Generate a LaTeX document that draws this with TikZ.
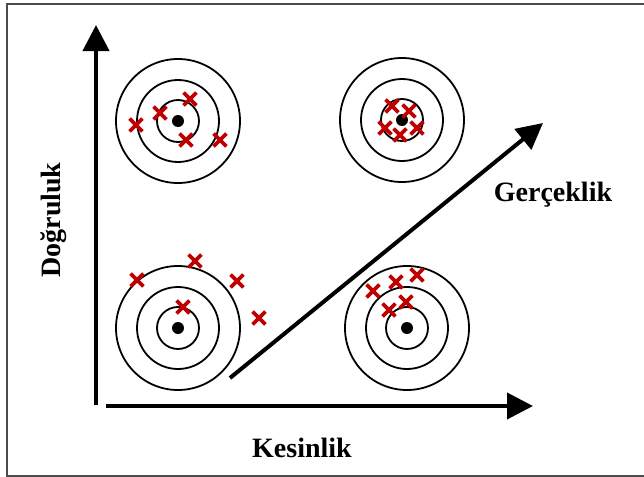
\documentclass[tikz,border=0pt]{standalone}
\usepackage{fontspec}
\setmainfont{Liberation Serif}
\usetikzlibrary{arrows.meta, shapes.misc}

\begin{document}
\begin{tikzpicture}[x=0.5pt, y=-0.5pt,
    ring/.style={draw=black, line width=0.9pt},
    bull/.style={circle, fill=black, inner sep=0pt, minimum size=6pt},
    hit/.style={cross out, draw=red!75!black, line width=1.9pt, inner sep=0pt, minimum size=4.5pt},
    axis/.style={-{Triangle[length=13pt, width=13pt]}, line width=2pt},
    lbl/.style={font=\fontsize{14}{16}\selectfont\bfseries}
]
\useasboundingbox (0,0) rectangle (644,477);
\draw[gray!60!black, line width=1pt] (644,4) -- (7,4) -- (7,476) -- (644,476);

% targets
\node[bull] (tl) at (178,121) {};
\node[bull] (tr) at (402,120) {};
\node[bull] (bl) at (178,328) {};
\node[bull] (br) at (407,328) {};
\foreach \c in {tl,tr,bl,br}
  \foreach \r in {10.5pt,20.5pt,31pt}
    \draw[ring] (\c) circle[radius=\r];

% hits
\foreach \x/\y [count=\i] in {190/99, 160/113, 136/125, 186/140, 220/140,
    392/106, 409/111, 385/128, 400/135, 417/128,
    195/261, 137/280, 237/281, 183/307, 259/318,
    417/275, 396/282, 373/291, 406/302, 389/310}
  \node[hit] (h\i) at (\x,\y) {};

% axes
\coordinate (yo) at (96,405);
\coordinate (ytip) at (96,25);
\coordinate (xo) at (106,406);
\coordinate (xtip) at (533,406);
\coordinate (do) at (230,378);
\coordinate (dtip) at (543,123);
\draw[axis] (yo) -- (ytip);
\draw[axis] (xo) -- (xtip);
\draw[axis] (do) -- (dtip);

\node[lbl, rotate=90] (dog) at (54,220) {Doğruluk};
\node[lbl] (kes) at (302,448) {Kesinlik};
\node[lbl] (ger) at (553,195) {Gerçeklik};
\end{tikzpicture}
\end{document}
